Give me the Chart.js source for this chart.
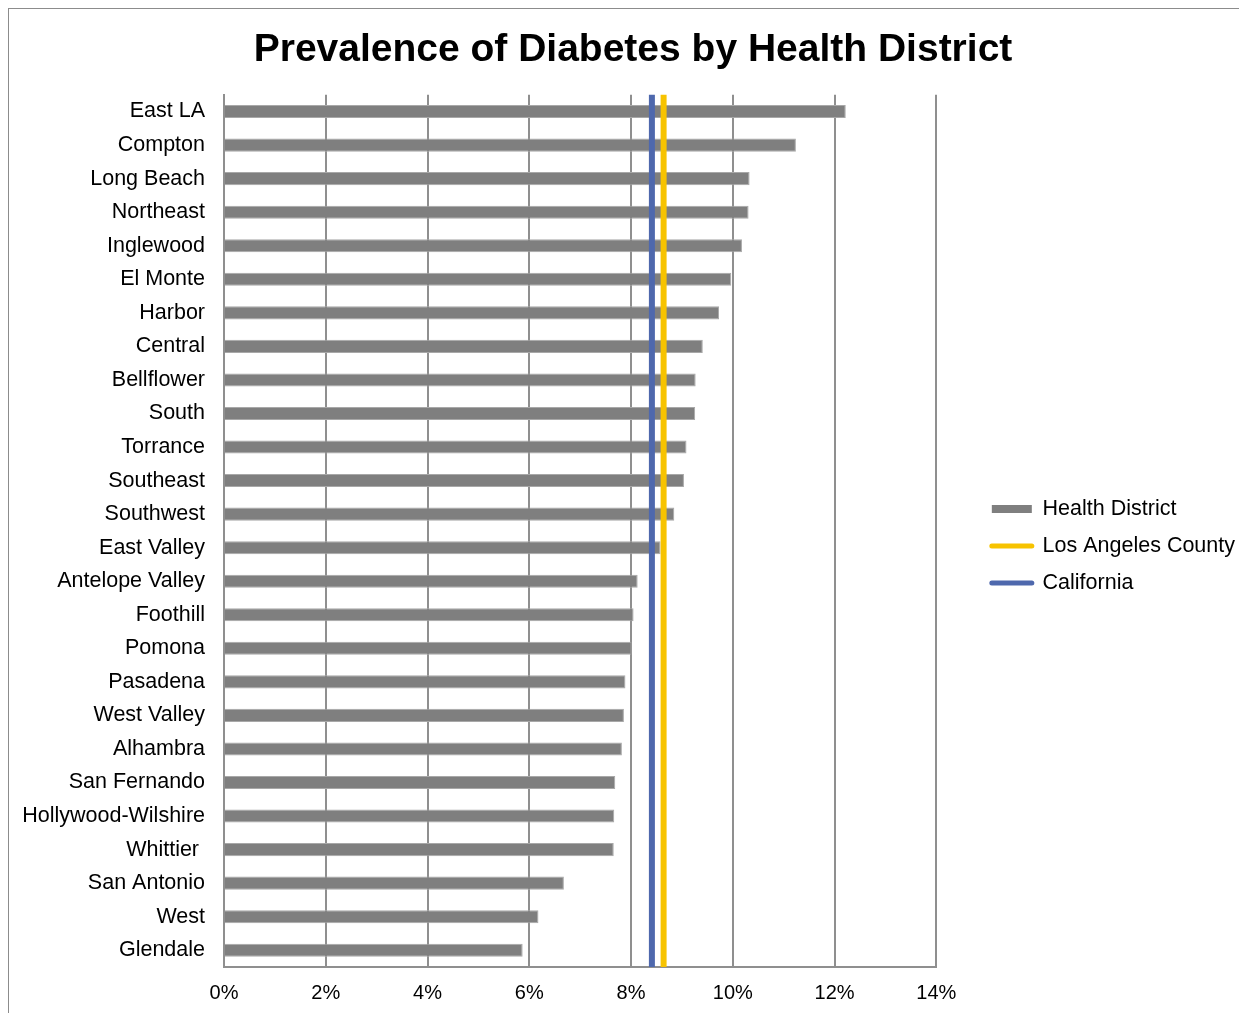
<!DOCTYPE html>
<html>
<head>
<meta charset="utf-8">
<script src="https://cdn.jsdelivr.net/npm/chart.js@4/dist/chart.umd.min.js"></script>
<style>
  html, body { margin: 0; padding: 0; background: #fff; overflow: hidden; }
  #marco {
    position: absolute; left: 8px; top: 8px;
    width: 1244px; height: 1010px;
    border: 1px solid #8c8c8c;
  }
</style>
</head>
<body>
<div id="marco"><canvas id="graficoDiabetes"></canvas></div>
<script>
// Distritos de salud (orden de arriba a abajo)
const distritos = [
  'East LA', 'Compton', 'Long Beach', 'Northeast', 'Inglewood', 'El Monte',
  'Harbor', 'Central', 'Bellflower', 'South', 'Torrance', 'Southeast',
  'Southwest', 'East Valley', 'Antelope Valley', 'Foothill', 'Pomona',
  'Pasadena', 'West Valley', 'Alhambra', 'San Fernando', 'Hollywood-Wilshire',
  'Whittier ', 'San Antonio', 'West', 'Glendale'
];

// Prevalencia de diabetes (%) por distrito
const prevalencia = [
  12.22, 11.24, 10.33, 10.31, 10.18, 9.97,
  9.73, 9.41, 9.27, 9.26, 9.09, 9.04,
  8.85, 8.58, 8.13, 8.05, 8.01,
  7.89, 7.86, 7.82, 7.69, 7.67,
  7.66, 6.68, 6.18, 5.87
];

// Valores de referencia
const condadoLA = 8.64;
const california = 8.41;

// Marcas del eje x
const marcasX = [0, 2, 4, 6, 8, 10, 12, 14];

const colorBarra = '#7f7f7f';
const colorLA = '#f7c300';
const colorCA = '#4e68ad';
const fuente = "'Liberation Sans', Arial, sans-serif";

// Línea vertical de referencia que cubre todo el alto del área del gráfico
function lineaReferencia(etiqueta, valor, color) {
  return {
    type: 'scatter',
    label: etiqueta,
    data: [{ x: valor, y: 0 }, { x: valor, y: 1 }],
    xAxisID: 'x',
    yAxisID: 'yLinea',
    showLine: true,
    borderColor: color,
    backgroundColor: color,
    borderWidth: 6,
    borderCapStyle: 'round',
    pointRadius: 0,
    order: 1
  };
}

const ctx = document.getElementById('graficoDiabetes').getContext('2d');
const grafico = new Chart(ctx, {
  data: {
    labels: distritos,
    datasets: [
      {
        type: 'bar',
        label: 'Health District',
        data: prevalencia,
        backgroundColor: colorBarra,
        borderColor: '#a8a8a8',
        borderWidth: 1,
        grouped: false,
        categoryPercentage: 1,
        barPercentage: 0.39,
        xAxisID: 'x',
        yAxisID: 'y',
        order: 2
      },
      lineaReferencia('Los Angeles County', condadoLA, colorLA),
      lineaReferencia('California', california, colorCA)
    ]
  },
  options: {
    indexAxis: 'y',
    responsive: true,
    maintainAspectRatio: false,
    animation: false,
    layout: { padding: { top: 18, left: 12, right: 8, bottom: 14 } },
    scales: {
      x: {
        type: 'linear',
        position: 'bottom',
        min: 0,
        max: 14,
        afterBuildTicks: escala => { escala.ticks = marcasX.map(v => ({ value: v })); },
        afterFit: escala => { escala.height = 38; },
        ticks: {
          callback: v => v + '%',
          color: '#000',
          font: { family: fuente, size: 20 },
          padding: 14
        },
        grid: { color: '#8f8f8f', lineWidth: 2, drawTicks: false },
        border: { color: '#8f8f8f', width: 2 }
      },
      y: {
        type: 'category',
        position: 'left',
        offset: true,
        afterFit: escala => { escala.width = 203; },
        ticks: {
          color: '#000',
          font: { family: fuente, size: 21.5 },
          padding: 19,
          autoSkip: false
        },
        grid: { display: false, drawTicks: false },
        border: { color: '#8f8f8f', width: 2 }
      },
      // eje auxiliar para las líneas verticales; deja espacio antes de la leyenda
      yLinea: {
        type: 'linear',
        position: 'right',
        min: 0,
        max: 1,
        afterFit: escala => { escala.width = 40; },
        ticks: { display: false },
        grid: { display: false, drawTicks: false },
        border: { display: false }
      }
    },
    plugins: {
      title: {
        display: true,
        text: 'Prevalence of Diabetes by Health District',
        color: '#000',
        font: { family: fuente, size: 39, weight: 'bold' },
        padding: { top: 0, bottom: 21 }
      },
      legend: {
        position: 'right',
        maxWidth: 300,
        title: { display: true, text: ' ', font: { size: 20 }, padding: { top: 18, bottom: 18 } },
        labels: {
          color: '#000',
          font: { family: fuente, size: 21.5 },
          usePointStyle: true,
          pointStyleWidth: 40,
          boxHeight: 8,
          padding: 15.5,
          sort: (a, b) => a.datasetIndex - b.datasetIndex,
          generateLabels: chart => {
            const items = Chart.defaults.plugins.legend.labels.generateLabels(chart);
            items.forEach(item => {
              const ds = chart.data.datasets[item.datasetIndex];
              if (ds.type === 'scatter') {
                item.pointStyle = 'line';
                item.strokeStyle = ds.borderColor;
                item.fillStyle = ds.borderColor;
                item.lineWidth = 5;
                item.lineCap = 'round';
              } else {
                item.pointStyle = 'rect';
                item.fillStyle = colorBarra;
                item.strokeStyle = colorBarra;
                item.lineWidth = 0;
              }
            });
            return items;
          }
        }
      },
      tooltip: { enabled: false }
    }
  }
});
</script>
</body>
</html>
